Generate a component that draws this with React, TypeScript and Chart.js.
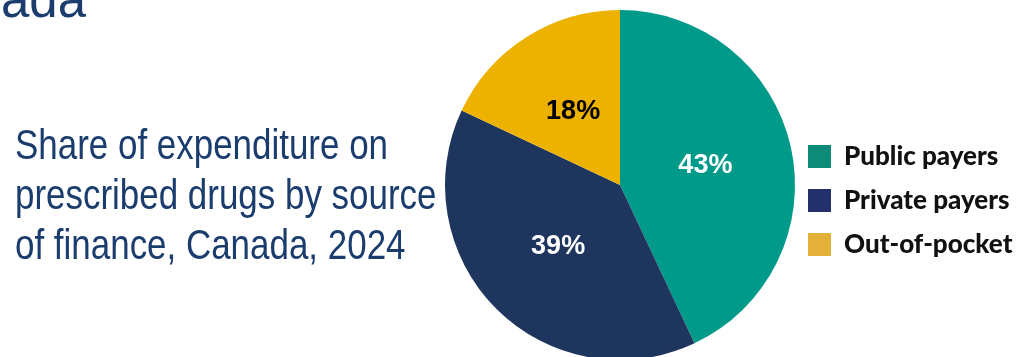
import React, { useEffect, useRef } from "react";
import { Chart, registerables } from "chart.js";

Chart.register(...registerables);

const categories = ["Public payers", "Private payers", "Out-of-pocket"];
const shares = [43, 39, 18];
const sliceColors = ["#009A8A", "#1E355E", "#EDB100"];
const legendColors = ["#0E8A78", "#23306B", "#E3B13A"];
const labelColors = ["#FFFFFF", "#FFFFFF", "#000000"];
const subtitleLines = ["Share of expenditure on", "prescribed drugs by source", "of finance, Canada, 2024"];
const titleTail = "ada";

const CANVAS_W = 1060;
const CANVAS_H = 357;
const LEGEND_FONT = 26;
const LEGEND_BOX_W = 23;
const LEGEND_BOX_H = 23;
const LEGEND_PAD = 18;
const LEGEND_FAMILY = "Lato, 'Noto Sans', sans-serif";

const valueLabels = {
  id: "valueLabels",
  afterDatasetsDraw(chart: any) {
    const ctx = chart.ctx;
    const meta = chart.getDatasetMeta(0);
    ctx.save();
    ctx.font = "bold 27px 'Liberation Sans', Arial, sans-serif";
    ctx.textAlign = "center";
    ctx.textBaseline = "middle";
    meta.data.forEach((arc: any, i: number) => {
      const p = arc.tooltipPosition();
      ctx.fillStyle = labelColors[i];
      ctx.fillText(shares[i] + "%", p.x, p.y);
    });
    ctx.restore();
  },
};

export default function App() {
  const ref = useRef<HTMLCanvasElement | null>(null);

  useEffect(() => {
    const canvas = ref.current;
    if (!canvas) return;
    const mctx = canvas.getContext("2d")!;
    mctx.font = `900 ${LEGEND_FONT}px ${LEGEND_FAMILY}`;
    const textW = Math.max(...categories.map((c) => mctx.measureText(c).width));
    const legendWidth = LEGEND_PAD + LEGEND_BOX_W + LEGEND_FONT / 2 + textW + 10;
    const legendLeft = 808 - LEGEND_PAD;
    const padRight = CANVAS_W - (legendLeft + legendWidth);
    const padLeft = 2 * 620 - legendLeft;

    const chart = new Chart(canvas, {
      type: "pie",
      data: {
        labels: categories,
        datasets: [
          {
            data: shares,
            backgroundColor: sliceColors,
            borderWidth: 0,
            radius: 175,
          } as any,
        ],
      },
      options: {
        responsive: false,
        animation: false,
        devicePixelRatio: 1,
        layout: { padding: { left: padLeft, right: padRight, top: 13, bottom: 0 } },
        plugins: {
          tooltip: { enabled: false },
          legend: {
            position: "right",
            align: "center",
            title: {
              display: true,
              text: "",
              padding: { top: 30, bottom: 0 },
              font: { size: 1, lineHeight: 1 },
            },
            labels: {
              boxWidth: LEGEND_BOX_W,
              boxHeight: LEGEND_BOX_H,
              padding: LEGEND_PAD,
              color: "#111111",
              font: { size: LEGEND_FONT, weight: "900", family: LEGEND_FAMILY },
              generateLabels: () =>
                categories.map((c, i) => ({
                  text: c,
                  fillStyle: legendColors[i],
                  strokeStyle: legendColors[i],
                  lineWidth: 0,
                  hidden: false,
                  index: i,
                  fontColor: "#111111",
                })),
            },
          },
        },
      },
      plugins: [valueLabels],
    } as any);
    return () => chart.destroy();
  }, []);

  const textColor = "#1A3D6D";
  return (
    <div
      style={{
        position: "fixed",
        left: 0,
        top: 0,
        width: 1018,
        height: 357,
        overflow: "hidden",
        background: "#ffffff",
      }}
    >
      <canvas
        ref={ref}
        width={CANVAS_W}
        height={CANVAS_H}
        style={{ position: "absolute", left: 0, top: 0, width: CANVAS_W, height: CANVAS_H }}
      />
      <div
        style={{
          position: "absolute",
          left: 1,
          top: -26,
          fontFamily: "'Liberation Sans', Arial, sans-serif",
          fontSize: 51,
          lineHeight: "51px",
          color: textColor,
          whiteSpace: "nowrap",
        }}
      >
        {titleTail}
      </div>
      <div
        style={{
          position: "absolute",
          left: 15,
          top: 120,
          fontFamily: "'Liberation Sans', Arial, sans-serif",
          fontSize: 42,
          lineHeight: "50px",
          color: textColor,
          whiteSpace: "nowrap",
          transform: "scaleX(0.832)",
          transformOrigin: "left top",
        }}
      >
        {subtitleLines.map((l, i) => (
          <div key={i}>{l}</div>
        ))}
      </div>
    </div>
  );
}
